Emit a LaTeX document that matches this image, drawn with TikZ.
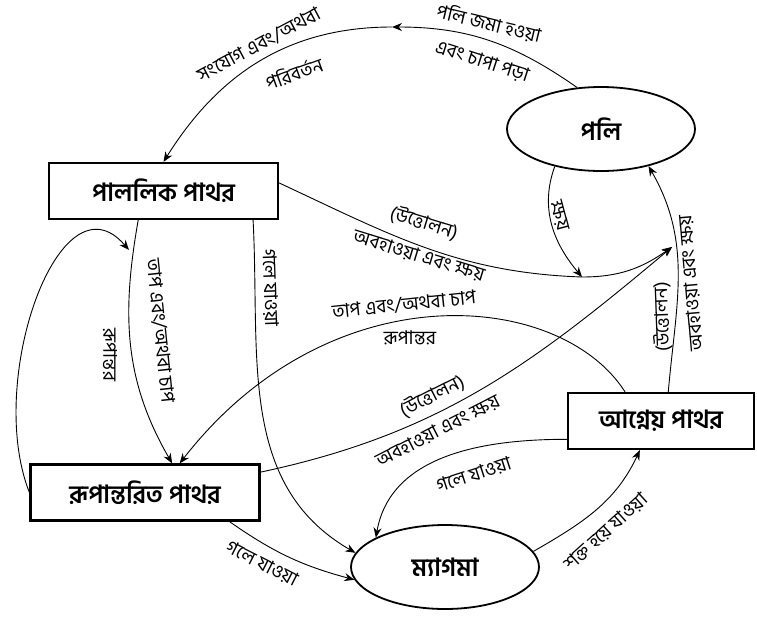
\documentclass[tikz,border=0pt]{standalone}
\usepackage{fontspec}
\newfontfamily\bn[Script=Bengali]{Hind Siliguri}
\usetikzlibrary{shapes.geometric,arrows.meta}

\begin{document}
\begin{tikzpicture}
  [x=1pt,y=-1pt,line width=0.9pt,>={Stealth[length=10pt,width=8pt]},
   every node/.style={font=\bn\fontsize{19}{21}\selectfont,inner sep=1pt},
   rock/.style={draw,fill=white,line width=2.2pt,rectangle,minimum width=229pt,minimum height=56pt,font=\bn\bfseries\fontsize{25}{27}\selectfont},
   blob/.style={draw,fill=white,line width=1.8pt,ellipse,minimum width=188pt,minimum height=84pt,inner sep=0pt,font=\bn\bfseries\fontsize{25}{27}\selectfont}]

  \useasboundingbox (0,0) rectangle (757,616);

  \node[blob] (poli) at (601,129) {পলি};
  \node[rock] (sed) at (163.5,191) {পাললিক পাথর};
  \node[rock] (meta) at (145,492.5) {রূপান্তরিত পাথর};
  \node[rock,minimum width=186pt] (ign) at (661,421) {আগ্নেয় পাথর};
  \node[blob] (magma) at (445,567) {ম্যাগমা};

  \coordinate (T) at (392,27);
  \coordinate (J) at (582,277);
  \coordinate (K) at (672,247);
  \coordinate (L) at (129,250);

  \draw[->] (poli.120) to[out=145,in=0] (T);
  \draw[->] (T) to[out=180,in=58] (sed.north);
  \draw[->] (poli.219) to[out=-110,in=130] (J);
  \draw (sed.4) to[out=-25,in=178] (J);
  \draw[->] (J) to[out=0,in=215] (K);
  \draw[->] (meta.10) to[out=12,in=220] (K);
  \draw[->] (ign.76) to[out=85,in=-60] (poli.-38);
  \draw[->] (ign.141) .. controls (560,290) and (330,270) .. (meta.40);
  \draw[->] (sed.-131) to[out=-100,in=120] (meta.47);
  \draw[->] (meta.west) .. controls (-15,380) and (60,170) .. (L);
  \foreach \from/\to/\o/\i in {sed.-18.7/magma.171/-87/150,meta.-19/magma.188/-35/165,ign.191/magma.157/180/80,magma.10/ign.234/30/-115}
    \draw[->] (\from) to[out=\o,in=\i] (\to);

  \node[rotate=-13.5] (l1) at (489,23) {পলি জমা হওয়া};
  \node[rotate=-18] (l2) at (482,62) {এবং চাপা পড়া};
  \node[rotate=28] (l3) at (259,45) {সংযোগ এবং/অথবা};
  \node[rotate=20] (l4) at (294,73) {পরিবর্তন};
  \node[rotate=-75] (l5) at (559,216) {ক্ষয়};
  \node[rotate=-17] (l6) at (424,223) {(উত্তোলন)};
  \node[rotate=-17] (l7) at (419,256) {অবহাওয়া এবং ক্ষয়};
  \node[rotate=92] (l8) at (662,317) {(উত্তোলন)};
  \node[rotate=95] (l9) at (691,283) {অবহাওয়া এবং ক্ষয়};
  \node[rotate=6] (l10) at (404,305) {তাপ এবং/অথবা চাপ};
  \node (l11) at (410,338) {রূপান্তর};
  \node[rotate=27] (l12) at (432,396) {(উত্তোলন)};
  \node[rotate=27] (l13) at (438,431) {অবহাওয়া এবং ক্ষয়};
  \node[rotate=18] (l14) at (474,475) {গলে যাওয়া};
  \node[rotate=42] (l15) at (606,532) {শক্ত হয়ে যাওয়া};
  \node[rotate=-27] (l16) at (262,564) {গলে যাওয়া};
  \node[rotate=-84] (l17) at (160,331) {তাপ এবং/অথবা চাপ};
  \node[rotate=-90] (l18) at (110,355) {রূপান্তর};
  \node[rotate=-88] (l19) at (270,288) {গলে যাওয়া};
\end{tikzpicture}
\end{document}
